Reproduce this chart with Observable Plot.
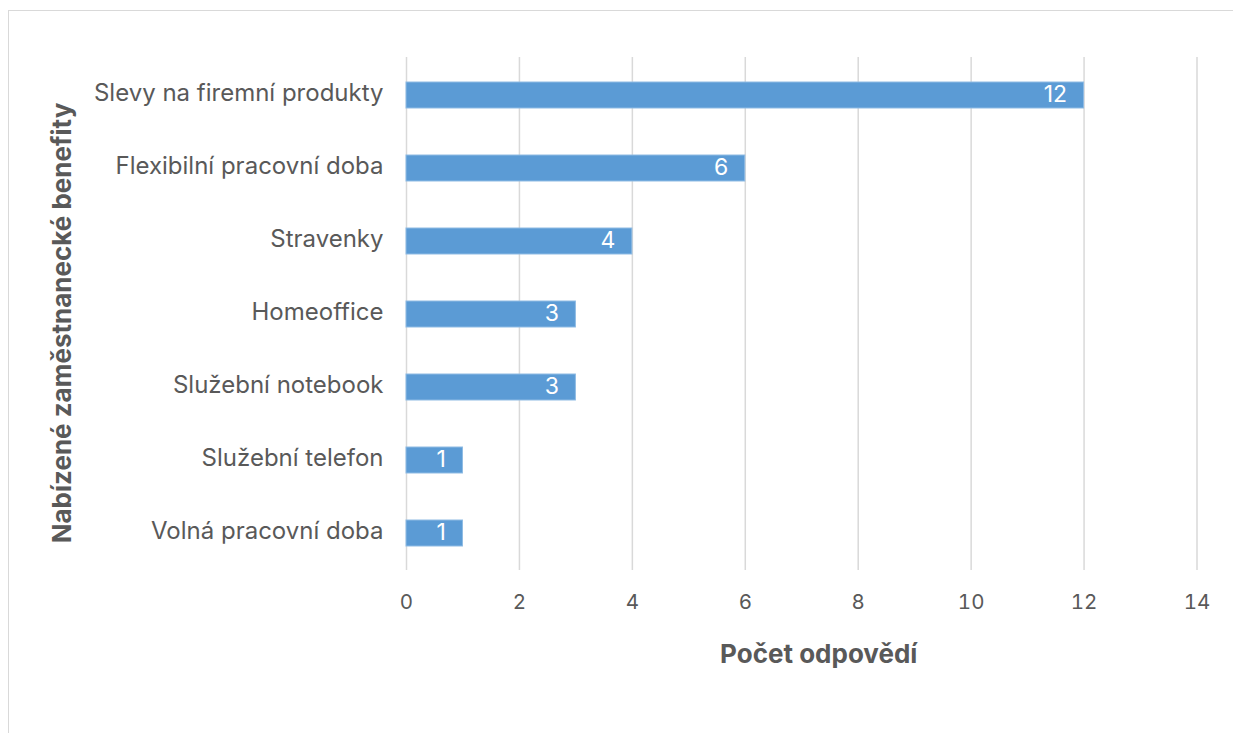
<!DOCTYPE html>
<html><head><meta charset="utf-8">
<script src="https://cdn.jsdelivr.net/npm/d3@7"></script>
<script src="https://cdn.jsdelivr.net/npm/@observablehq/plot@0.6"></script>
<style>
html,body{margin:0;padding:0;background:#fff;overflow:hidden;}
#frame{position:absolute;left:8px;top:10px;width:1300px;height:800px;border:1.5px solid #d9d9d9;box-sizing:border-box;}
#chart{position:absolute;left:0;top:0;}
</style></head>
<body>
<div id="frame"></div>
<div id="chart"></div>
<script>
const categories = ["Slevy na firemní produkty","Flexibilní pracovní doba","Stravenky","Homeoffice","Služební notebook","Služební telefon","Volná pracovní doba"];
const values = [12, 6, 4, 3, 3, 1, 1];
const xTicks = [0, 2, 4, 6, 8, 10, 12, 14];
const xTitle = "Počet odpovědí";
const yTitle = "Nabízené zaměstnanecké benefity";

const data = categories.map((c, i) => ({category: c, value: values[i]}));
const font = "Inter, 'Noto Sans', sans-serif";
const gray = "#595959";

const chart = Plot.plot({
  width: 1233, height: 733,
  marginLeft: 406, marginRight: 36.5, marginTop: 57, marginBottom: 163,
  style: {fontFamily: font, fontSize: "20px", color: gray, background: "transparent"},
  x: {domain: [0, 14], ticks: xTicks, label: null},
  y: {domain: categories, paddingInner: 0.645, paddingOuter: 0.3225, label: null},
  marks: [
    Plot.gridX(xTicks, {stroke: "#d9d9d9", strokeOpacity: 1, strokeWidth: 1.5}),
    Plot.axisX({ticks: xTicks, tickSize: 0, tickPadding: 24, fontSize: 20.5, fill: gray, label: null}),
    Plot.axisY({tickSize: 0, tickPadding: 23, fontSize: 24, fill: gray, label: null, dy: -2}),
    Plot.barX(data, {x: "value", y: "category", fill: "#5B9BD5", stroke: "#8fbbe4", strokeWidth: 1}),
    Plot.text(data, {x: "value", y: "category", text: d => String(d.value), textAnchor: "end", dx: -17, dy: -1, fill: "white", fontSize: 23}),
    Plot.text([xTitle], {frameAnchor: "bottom", dx: 17, dy: 92, fontWeight: "bold", fontSize: 26, fill: gray}),
    Plot.text([yTitle], {frameAnchor: "left", textAnchor: "middle", rotate: -90, dx: -344, dy: 9, fontWeight: "bold", fontSize: 26, fill: gray})
  ]
});
document.getElementById("chart").appendChild(chart);
</script>
</body></html>
